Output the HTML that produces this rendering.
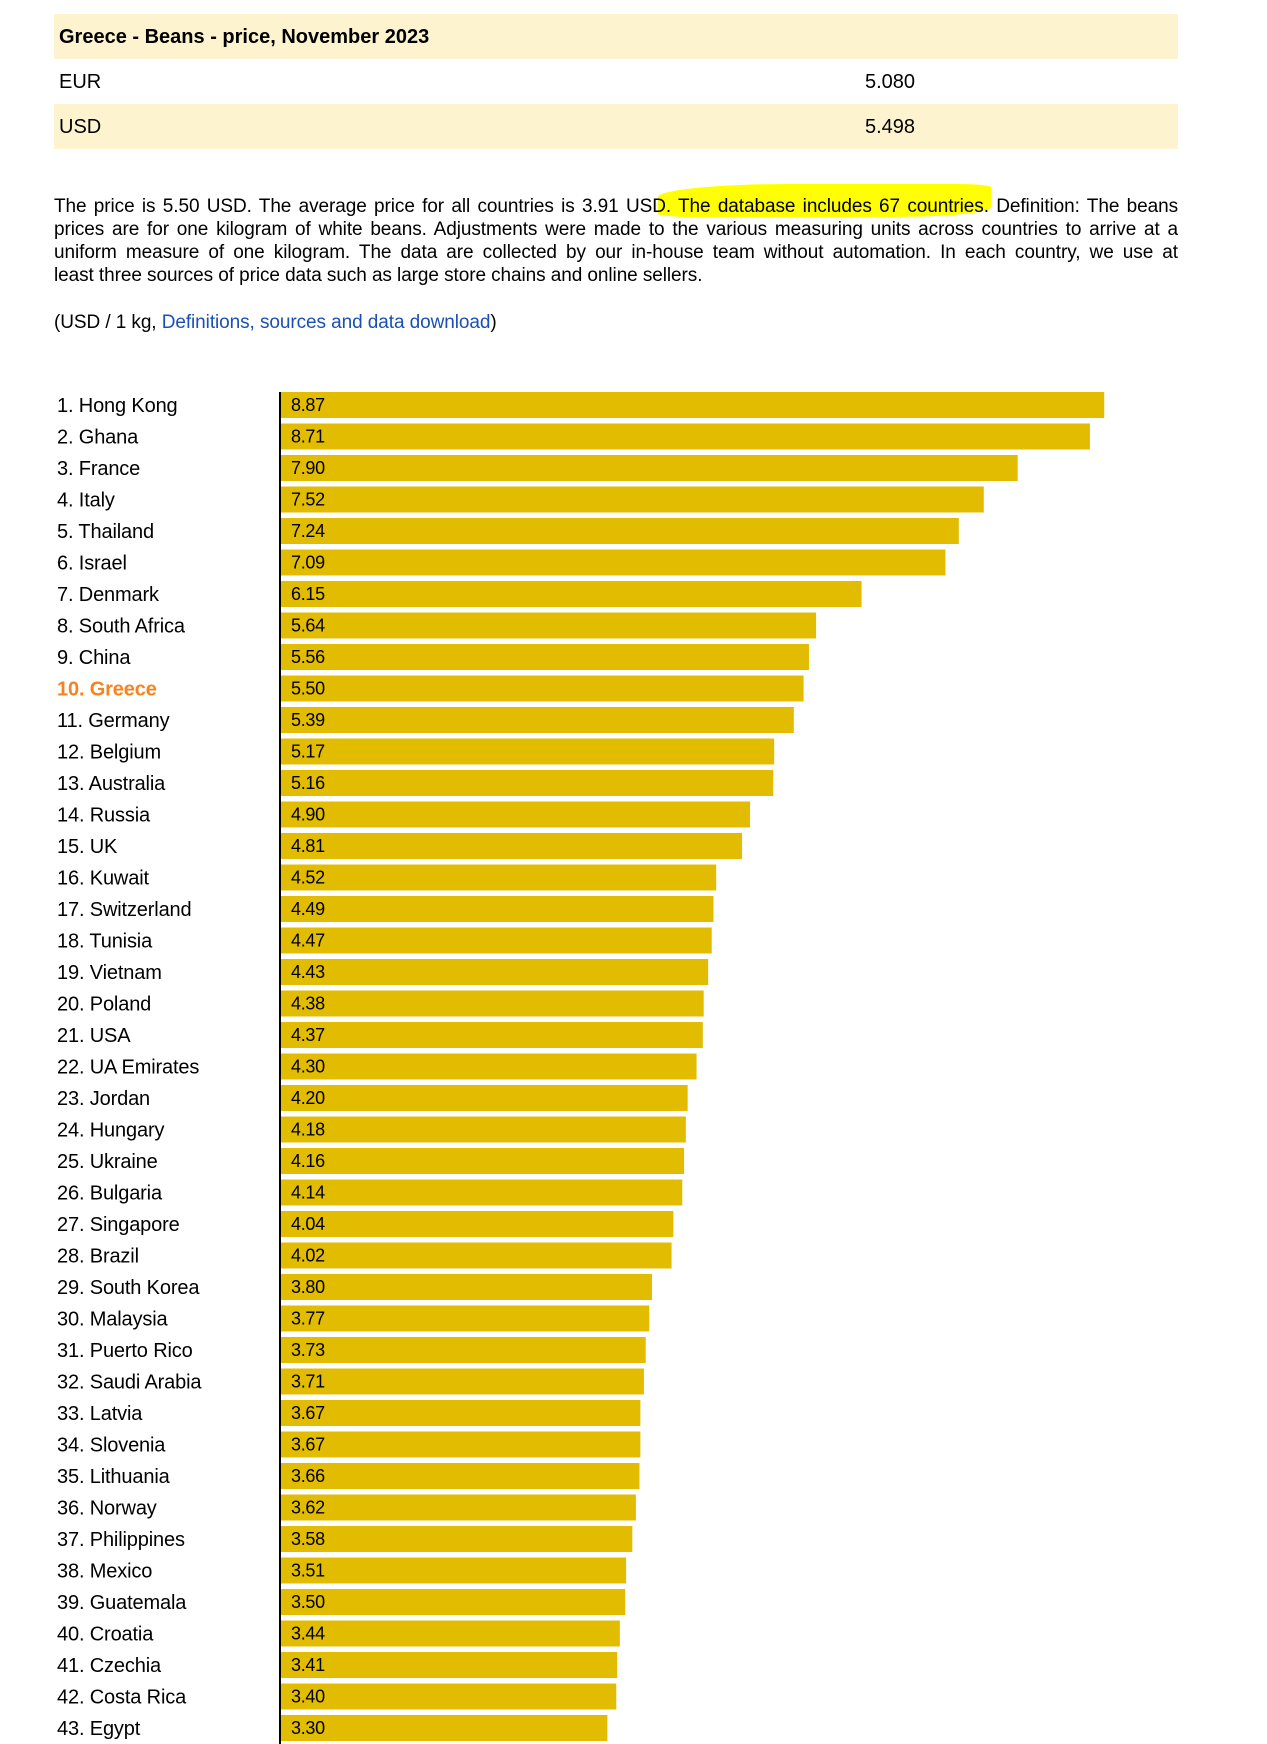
<!DOCTYPE html>
<html><head><meta charset="utf-8">
<style>
body{margin:0;width:1267px;height:1744px;background:#fff;font-family:"Liberation Sans",Arial,sans-serif;color:#000;position:relative;overflow:hidden}
.row{position:absolute;left:54px;width:1124px;height:45px;font-size:20px;line-height:46px}
.row span{position:absolute}
#para{position:absolute;left:54px;top:195px;width:1124px;font-size:19px;letter-spacing:-0.08px;line-height:23px}
#para .j{text-align:justify;text-align-last:justify;white-space:nowrap}
.hl{position:absolute;left:658px;top:184px;width:333px;height:33px;background:#ffff00;border-radius:40% 10% 30% 10%}
#unit{position:absolute;left:54px;top:311px;font-size:19px;letter-spacing:-0.08px;line-height:23px}
a{color:#1a4fb5;text-decoration:none}
</style></head><body>
<div class="row" style="top:14px;background:#fdf4cf;font-weight:bold"><span style="left:5px">Greece - Beans - price, November 2023</span></div>
<div class="row" style="top:59px"><span style="left:5px">EUR</span><span style="left:811px">5.080</span></div>
<div class="row" style="top:104px;background:#fdf4cf"><span style="left:5px">USD</span><span style="left:811px">5.498</span></div>
<div class="hl"></div>
<div id="para"><div class="j">The price is 5.50 USD. The average price for all countries is 3.91 USD. The database includes 67 countries. Definition: The beans</div><div class="j">prices are for one kilogram of white beans. Adjustments were made to the various measuring units across countries to arrive at a</div><div class="j">uniform measure of one kilogram. The data are collected by our in-house team without automation. In each country, we use at</div><div>least three sources of price data such as large store chains and online sellers.</div></div>
<div id="unit">(USD / 1 kg, <a href="#">Definitions, sources and data download</a>)</div>
<svg id="chart" width="1267" height="1744" style="position:absolute;left:0;top:0"></svg>
<script>
const countries=["Hong Kong","Ghana","France","Italy","Thailand","Israel","Denmark","South Africa","China","Greece","Germany","Belgium","Australia","Russia","UK","Kuwait","Switzerland","Tunisia","Vietnam","Poland","USA","UA Emirates","Jordan","Hungary","Ukraine","Bulgaria","Singapore","Brazil","South Korea","Malaysia","Puerto Rico","Saudi Arabia","Latvia","Slovenia","Lithuania","Norway","Philippines","Mexico","Guatemala","Croatia","Czechia","Costa Rica","Egypt"];
const prices=[8.87,8.71,7.90,7.52,7.24,7.09,6.15,5.64,5.56,5.50,5.39,5.17,5.16,4.90,4.81,4.52,4.49,4.47,4.43,4.38,4.37,4.30,4.20,4.18,4.16,4.14,4.04,4.02,3.80,3.77,3.73,3.71,3.67,3.67,3.66,3.62,3.58,3.51,3.50,3.44,3.41,3.40,3.30];
const highlight="Greece";
const svg=document.getElementById('chart');
const NS="http://www.w3.org/2000/svg";
const x0=281, top0=392, pitch=31.5, bh=26;
function xw(v){return 32+89.2*v;}
function yPos(i){return top0+i*pitch;}
prices.forEach((v,i)=>{
  const y=yPos(i);
  const r=document.createElementNS(NS,'rect');
  r.setAttribute('x',x0);r.setAttribute('y',y);r.setAttribute('width',xw(v));r.setAttribute('height',bh);r.setAttribute('fill','#e1bc00');
  
  
  svg.appendChild(r);
  const t=document.createElementNS(NS,'text');
  t.setAttribute('x',291);t.setAttribute('y',y+19);t.setAttribute('font-size','18');t.setAttribute('letter-spacing','-0.3');t.setAttribute('font-family','Liberation Sans, Arial, sans-serif');
  t.textContent=v.toFixed(2);
  
  
  svg.appendChild(t);
  const l=document.createElementNS(NS,'text');
  l.setAttribute('x',57);l.setAttribute('y',y+20);l.setAttribute('font-size','20');l.setAttribute('letter-spacing','-0.15');l.setAttribute('font-family','Liberation Sans, Arial, sans-serif');
  if(countries[i]===highlight){l.setAttribute('fill','#f7821e');l.setAttribute('font-weight','bold');}
  l.textContent=(i+1)+'. '+countries[i];
  
  
  svg.appendChild(l);
});
const ax=document.createElementNS(NS,'line');
ax.setAttribute('x1',280);ax.setAttribute('x2',280);ax.setAttribute('y1',392);ax.setAttribute('y2',1744);ax.setAttribute('stroke','#000');ax.setAttribute('stroke-width','2');


svg.appendChild(ax);
</script>
</body></html>
